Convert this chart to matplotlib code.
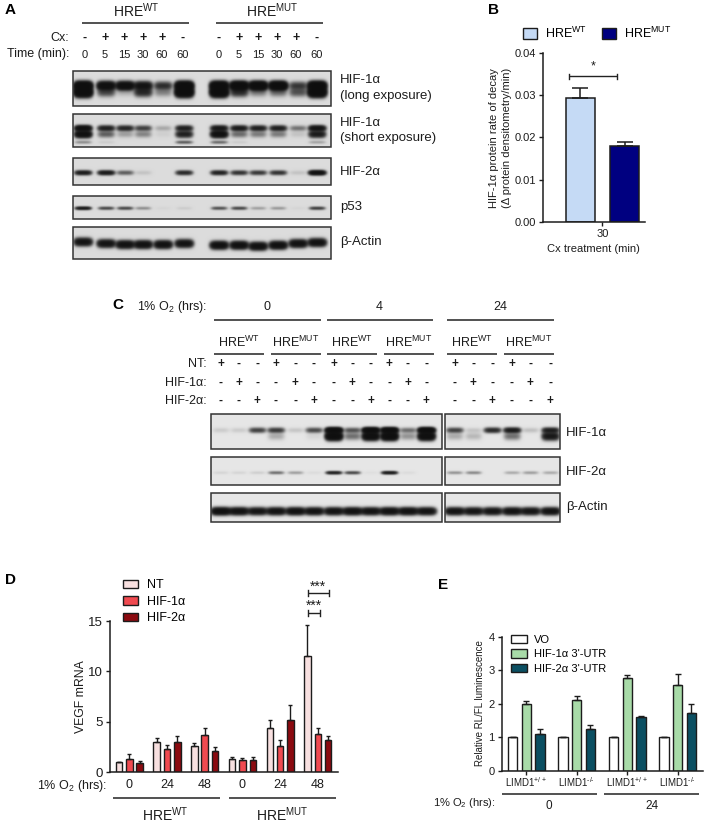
import numpy as np
import matplotlib
matplotlib.use("Agg")
import matplotlib.pyplot as plt
from matplotlib.patches import Patch, Rectangle

plt.rcParams['font.family'] = ['Liberation Sans', 'DejaVu Sans']
plt.rcParams['mathtext.fontset'] = 'custom'
plt.rcParams['mathtext.rm'] = 'Liberation Sans'
plt.rcParams['mathtext.default'] = 'regular'

W, H = 709, 824
INK = '#1c1c1c'

# ---------- data ----------
# A: band intensities per lane
a_cx = ['-', '+', '+', '+', '+', '-'] * 2
a_time = ['0', '5', '15', '30', '60', '60'] * 2
a_long_1 = [5, 3.5, 3.5, 2.4, 1.2, 5, 5, 5, 5, 5, 1.0, 5]
a_long_2 = [5, .8, .15, 1.3, .35, 5, 5, 1.2, .4, .5, .7, 5]
a_short_1 = [3, 1.6, 1.4, .9, .18, 1.6, 2, 1.8, 1.6, 1.6, .45, 2.4]
a_short_2 = [3, .6, .22, .35, .04, 1.6, 3, .5, .4, .4, .08, 1.8]
a_short_3 = [.3, .05, 0, 0, 0, .6, .5, .05, 0, 0, 0, .2]
a_hif2 = [1.7, 1.8, .6, .08, 0, 1.3, 1.5, 1.1, 1, 1.1, .08, 2.8]
a_p53 = [1.8, .8, .8, .3, .02, .05, .7, .8, .22, .25, .02, .9]
a_actin = [2.4, 2.4, 2.6, 2.6, 2.6, 2.4, 2.8, 2.8, 2.8, 2.8, 2.6, 2.6]

# B
b_groups = ['HRE$^{WT}$', 'HRE$^{MUT}$']
b_values = [0.0293, 0.0180]
b_errors = [0.0025, 0.0010]
b_ticks = [0.00, 0.01, 0.02, 0.03, 0.04]

# C: band intensities per lane
c_nt = ['+', '-', '-'] * 6
c_h1 = ['-', '+', '-'] * 6
c_h2 = ['-', '-', '+'] * 6
c_hif1_1 = [.08, .08, .9, 1.0, .1, .8, 4, .7, 4, 4, .5, 4, .9, .1, 1.3, 1.8, .12, 1.6]
c_hif1_2 = [0, 0, 0, .2, 0, .05, 4, .5, 3.5, 4, .3, 3.5, .2, .15, 0, .5, 0, 2]
c_hif2 = [.05, .05, .07, .5, .25, .03, 1.5, .8, .02, 1.7, .03, 0, .3, .35, 0, .2, .25, .2]
c_actin = [3, 2.6, 2.2, 2.4, 2.6, 2.4, 2.4, 2.6, 2.4, 2.6, 2.6, 2.4, 2.4, 2.2, 2.2, 2.4, 2.2, 2.4]

# D
d_labels = ['0', '24', '48', '0', '24', '48']
d_nt = [1.0, 3.0, 2.6, 1.35, 4.35, 11.5]
d_h1 = [1.35, 2.3, 3.65, 1.2, 2.65, 3.8]
d_h2 = [0.95, 3.0, 2.15, 1.25, 5.2, 3.2]
d_nt_err = [0.0, 0.4, 0.3, 0.15, 0.85, 3.1]
d_h1_err = [0.45, 0.45, 0.75, 0.2, 0.55, 0.6]
d_h2_err = [0.2, 0.55, 0.4, 0.25, 1.5, 0.4]

# E
e_labels = ['LIMD1$^{+/+}$', 'LIMD1$^{\u2010/\u2010}$', 'LIMD1$^{+/+}$', 'LIMD1$^{\u2010/\u2010}$']
e_vo = [1, 1, 1, 1]
e_h1 = [2.0, 2.1, 2.77, 2.57]
e_h2 = [1.1, 1.23, 1.6, 1.73]
e_h1_err = [0.08, 0.12, 0.08, 0.31]
e_h2_err = [0.15, 0.14, 0.02, 0.27]

# ---------- layout helpers ----------
fig = plt.figure(figsize=(W / 100, H / 100), dpi=100)
ov = fig.add_axes([0, 0, 1, 1], zorder=5)
ov.set_xlim(0, W)
ov.set_ylim(H, 0)
ov.axis('off')
ov.patch.set_alpha(0)


def px_axes(x0, x1, ytop, ybot):
    ax = fig.add_axes([x0 / W, 1 - ybot / H, (x1 - x0) / W, (ybot - ytop) / H])
    ax.patch.set_alpha(0)
    for s in ('top', 'right'):
        ax.spines[s].set_visible(False)
    for s in ('left', 'bottom'):
        ax.spines[s].set_linewidth(1.1)
        ax.spines[s].set_color(INK)
    ax.tick_params(width=1.0, length=3, color=INK, labelcolor=INK, pad=2)
    return ax


def t(x, y, s, size=9, ha='center', **kw):
    ov.text(x, y, s, fontsize=size, ha=ha, va='center', color=INK, **kw)


def hline(x0, x1, y, lw=1.1):
    ov.plot([x0, x1], [y, y], color='#222222', lw=lw, solid_capstyle='butt')


def bracket(x0, x1, y, cap=3):
    hline(x0, x1, y, lw=1.0)
    for x in (x0, x1):
        ov.plot([x, x], [y - cap, y + cap], color='#222222', lw=1.0)


def blot(x0, x1, y0, y1, lanes, layers, sx, bg=.80):
    xs = np.arange(x0, x1, .5)
    ys = np.arange(y0, y1, .5)
    X, Y = np.meshgrid(xs, ys)
    d = np.zeros_like(X)
    for rel_y, sy, amps in layers:
        rel = np.broadcast_to(rel_y, (len(lanes),))
        for lane, amp, ry in zip(lanes, amps, rel):
            d += amp * np.exp(-((X - lane) / sx) ** 4) * np.exp(-((Y - y0 - ry) / sy) ** 2)
    img = bg * np.exp(-1.6 * d) + .06
    ov.imshow(img, extent=(x0, x1, y1, y0), cmap='gray', vmin=0, vmax=1,
              aspect='auto', interpolation='bilinear', zorder=1)
    ov.add_patch(Rectangle((x0, y0), x1 - x0, y1 - y0, fill=False, ec='#333333', lw=1.1, zorder=2))


def panel(x, y, s):
    ov.text(x, y, s, fontsize=11, fontweight='bold', color='black', ha='left', va='center')


# ---------- Panel A ----------
panel(5, 10, 'A')
a_lanes = np.array([83, 106, 125, 143, 163, 184, 219, 239, 258, 278, 298, 317])
a_text_x = np.array([85, 105, 124, 143, 162, 183, 219, 239, 258, 277, 296, 317])
t(136, 11, 'HRE$^{WT}$', 10)
t(272, 11, 'HRE$^{MUT}$', 10)
hline(82, 189, 23)
hline(216, 323, 23)
t(69, 38, 'Cx:', 9, ha='right')
t(69, 54, 'Time (min):', 9, ha='right')
for x, c, m in zip(a_text_x, a_cx, a_time):
    t(x, 38, c, 9, fontweight='bold')
    t(x, 55, m, 8)

actin_y = [14.7, 16.3, 17.3, 17.3, 17.3, 16.3, 18, 18, 19, 18, 16.3, 15.3]
blot(73, 331, 71, 106, a_lanes, [(14.5, 3.6, a_long_1), (21, 4, a_long_2)], 8.5)
blot(73, 331, 114, 147, a_lanes, [(14, 2.5, a_short_1), (20, 3, a_short_2), (28, 1.5, a_short_3)], 8)
blot(73, 331, 158, 185, a_lanes, [(14.5, 2.1, a_hif2)], 8)
blot(73, 331, 196, 219, a_lanes, [(12, 1.5, a_p53)], 7.5)
blot(73, 331, 227, 259, a_lanes, [(actin_y, 3.4, a_actin)], 8.5)
t(340, 80, 'HIF-1α', 9.5, ha='left')
t(340, 96, '(long exposure)', 9.5, ha='left')
t(340, 123, 'HIF-1α', 9.5, ha='left')
t(340, 138, '(short exposure)', 9.5, ha='left')
t(340, 172, 'HIF-2α', 9.5, ha='left')
t(340, 207, 'p53', 9.5, ha='left')
t(340, 242, 'β-Actin', 9.5, ha='left')

# ---------- Panel B ----------
panel(488, 10, 'B')
axb = px_axes(543.3, 645, 53, 221.7)
b_colors = ['#c5daf5', '#000080']
axb.bar([0, 1], b_values, width=0.66, color=b_colors, edgecolor=INK, lw=1.1,
        yerr=[[0, 0], b_errors], ecolor=INK, capsize=5.5, error_kw={'lw': 1.1, 'capthick': 1.1})
axb.set_xlim(-0.83, 1.46)
axb.set_ylim(0, 0.04)
axb.set_yticks(b_ticks)
axb.set_yticklabels([f'{v:.2f}' for v in b_ticks], fontsize=8)
axb.set_xticks([0.5])
axb.set_xticklabels(['30'], fontsize=8)
t(593, 249, 'Cx treatment (min)', 8)
ov.text(500.5, 138, 'HIF-1α protein rate of decay\n(Δ protein densitometry/min)', fontsize=8,
        rotation=90, ha='center', va='center', color=INK, linespacing=1.3)
bracket(569, 617, 76, cap=2.5)
t(593, 66, '*', 9)
fig.legend(handles=[Patch(fc=b_colors[0], ec=INK, label=b_groups[0]),
                    Patch(fc=b_colors[1], ec=INK, label=b_groups[1])],
           ncol=2, frameon=False, fontsize=9, loc='center left',
           bbox_to_anchor=(522.7 / W, 1 - 33 / H), handlelength=1.17, handleheight=.95,
           handletextpad=.6, columnspacing=1.2, borderpad=0, borderaxespad=0)

# ---------- Panel C ----------
panel(112, 305, 'C')
c_lanes = 100 + np.array([362, 416, 472, 528, 586, 642, 701, 757, 812, 868, 924, 979,
                          1064, 1120, 1177, 1236, 1291, 1351]) / 3
t(207, 307, '1% O$_2$ (hrs):', 9, ha='right')
t(267, 307, '0', 9)
t(379, 307, '4', 9)
t(500, 307, '24', 9)
for x0, x1 in [(214, 321), (327, 433), (447, 554)]:
    hline(x0, x1, 320)
c_centers = 100 + np.array([417, 587, 757, 927, 1117, 1287]) / 3
c_spans = [(343, 492), (512, 663), (682, 831), (851, 1001), (1041, 1191), (1211, 1361)]
for i, (xc, (s0, s1)) in enumerate(zip(c_centers, c_spans)):
    t(xc, 342, 'HRE$^{WT}$' if i % 2 == 0 else 'HRE$^{MUT}$', 9)
    hline(100 + s0 / 3, 100 + s1 / 3, 353.7)
for y, name, marks in [(364, 'NT:', c_nt), (383, 'HIF-1α:', c_h1), (401, 'HIF-2α:', c_h2)]:
    t(207, y, name, 9, ha='right')
    for x, m in zip(c_lanes, marks):
        t(x, y, m, 8.5, fontweight='bold')


def c_row(y0, y1, layers, sx, bg=.84):
    left = [(r, s, a[:12]) for r, s, a in layers]
    right = [(r, s, a[12:]) for r, s, a in layers]
    blot(211, 441.7, y0, y1, c_lanes[:12], left, sx, bg)
    blot(445, 560, y0, y1, c_lanes[12:], right, sx, bg)


c_row(414, 448.7, [(16, 2.4, c_hif1_1), (22, 3.5, c_hif1_2)], 8)
c_row(457.3, 485.3, [(15.5, 1.5, c_hif2)], 7.5)
c_row(493.3, 522, [(18, 3.2, c_actin)], 9)
t(566, 433, 'HIF-1α', 9.5, ha='left')
t(566, 472, 'HIF-2α', 9.5, ha='left')
t(566, 507, 'β-Actin', 9.5, ha='left')

# ---------- Panel D ----------
panel(5, 580, 'D')
axd = px_axes(110, 338, 621, 772.3)
d_x = np.arange(6)
d_colors = ['#f8e0e0', '#f04a50', '#8b0a10']
d_names = ['NT', 'HIF-1α', 'HIF-2α']
for off, vals, errs, col, name in zip((-.275, 0, .275), (d_nt, d_h1, d_h2),
                                      (d_nt_err, d_h1_err, d_h2_err), d_colors, d_names):
    axd.bar(d_x + off, vals, width=.17, color=col, edgecolor=INK, lw=1.0, label=name,
            yerr=[np.zeros(6), errs], ecolor=INK, capsize=1.6, error_kw={'lw': 1.0, 'capthick': 1.0})
axd.set_xlim(-0.512, 5.536)
axd.set_ylim(0, 15)
axd.set_yticks([0, 5, 10, 15])
axd.tick_params(axis='y', labelsize=9.5)
axd.set_xticks([])
ov.text(81, 697, 'VEGF mRNA', fontsize=8.8, rotation=90, ha='center', va='center', color=INK)
for x, lab in zip(129.3 + d_x * 37.7, d_labels):
    t(x, 785, lab, 9)
t(107, 786.5, '1% O$_2$ (hrs):', 9, ha='right')
hline(113, 220, 798)
hline(229, 336, 798)
t(165, 815, 'HRE$^{WT}$', 10)
t(282, 815, 'HRE$^{MUT}$', 10)
bracket(308, 329, 593)
bracket(308, 320, 613)
t(318, 587, '***', 10)
t(314, 606, '***', 10)
fig.legend(handles=[Patch(fc=c, ec=INK, label=n) for c, n in zip(d_colors, d_names)],
           frameon=False, fontsize=9, loc='upper left',
           bbox_to_anchor=(122.7 / W, 1 - 579.5 / H), handlelength=1.22, handleheight=.64,
           handletextpad=.75, labelspacing=.35, borderpad=0, borderaxespad=0)

# ---------- Panel E ----------
panel(438, 585, 'E')
axe = px_axes(501.7, 703, 636.7, 770.7)
e_x = np.arange(4)
e_colors = ['white', '#a8dba8', '#0b4f62']
e_names = ['VO', "HIF-1α 3'-UTR", "HIF-2α 3'-UTR"]
for off, vals, errs, col, name in zip((-.27, 0, .27), (e_vo, e_h1, e_h2),
                                      (np.zeros(4), e_h1_err, e_h2_err), e_colors, e_names):
    axe.bar(e_x + off, vals, width=.185, color=col, edgecolor=INK, lw=1.0, label=name,
            yerr=[np.zeros(4), errs], ecolor=INK, capsize=2.3, error_kw={'lw': 1.0, 'capthick': 1.0})
axe.set_xlim(-0.487, 3.5)
axe.set_ylim(0, 4)
axe.set_yticks([0, 1, 2, 3, 4])
axe.tick_params(axis='y', labelsize=8)
axe.set_xticks(e_x)
axe.set_xticklabels(e_labels, fontsize=7, color=INK)
axe.tick_params(axis='x', pad=0.5)
ov.text(480, 703, 'Relative RL/FL luminescence', fontsize=7, rotation=90,
        ha='center', va='center', color=INK)
t(496, 803, '1% O$_2$ (hrs):', 8, ha='right')
hline(501.7, 596.7, 794.3)
hline(604, 699.3, 794.3)
t(549, 806, '0', 8.5)
t(651.7, 806, '24', 8.5)
fig.legend(handles=[Patch(fc=c, ec=INK, label=n) for c, n in zip(e_colors, e_names)],
           frameon=False, fontsize=8, loc='upper left',
           bbox_to_anchor=(511 / W, 1 - 635 / H), handlelength=1.41, handleheight=.77,
           handletextpad=.66, labelspacing=.4, borderpad=0, borderaxespad=0)

ov.set_xlim(0, W)
ov.set_ylim(H, 0)
fig.savefig('out.png', dpi=100, facecolor='white')
